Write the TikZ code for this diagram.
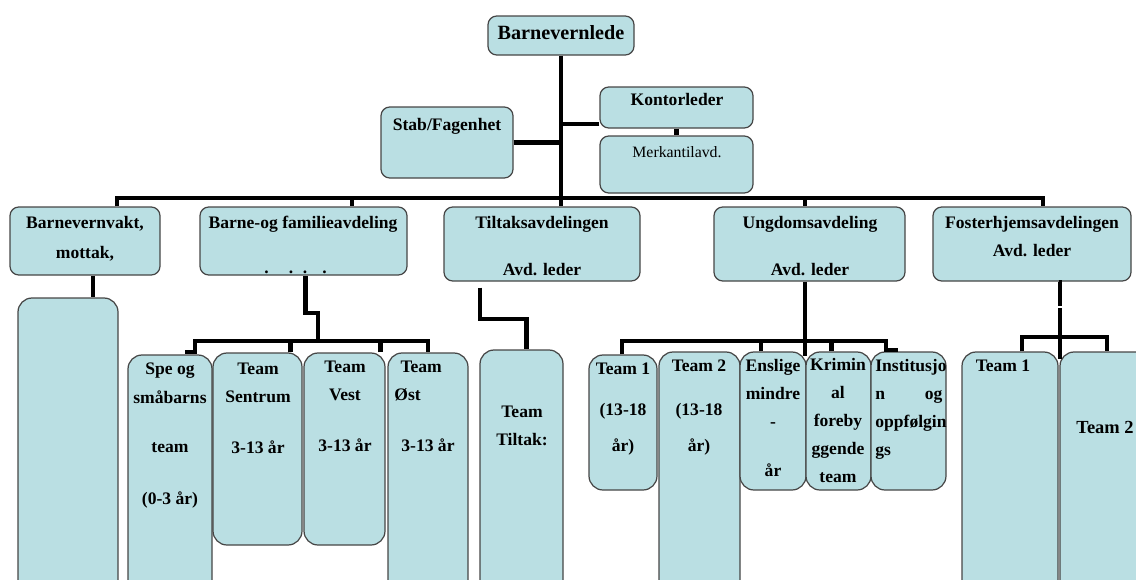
\documentclass[tikz,border=0pt]{standalone}
\usepackage{fontspec}
\setmainfont{Liberation Serif}
\usetikzlibrary{fit,calc}

\definecolor{boxfill}{RGB}{186,223,227}
\definecolor{boxline}{RGB}{70,70,70}

\begin{document}
\begin{tikzpicture}
[x=0.02cm,y=-0.02cm,
 box/.style={draw=boxline,line width=0.7pt,fill=boxfill,rounded corners=5pt,inner sep=0pt},
 tall/.style={box,rounded corners=8pt},
 txt/.style={anchor=north,inner sep=0pt,align=center,font=\bfseries\fontsize{10}{16}\selectfont},
 conn/.style={line width=2.3pt}]

\clip (0,0) rectangle (1136,579);

\node (lede) [box,fit={(488,16) (634,55)}] {};
\node (stab) [box,fit={(381,107) (513,178)}] {};
\node (kontor) [box,fit={(600,87) (753,128)}] {};
\node (merk) [box,fit={(600,136) (753,193)}] {};

\node (vakt) [box,fit={(10,207) (160,275)}] {};
\node (barne) [box,fit={(200,207) (407,275)}] {};
\node (tiltak) [box,fit={(444,207) (640,281)}] {};
\node (ungdom) [box,fit={(714,207) (905,281)}] {};
\node (foster) [box,fit={(933,207) (1131,281)}] {};

\node (vaktteam) [tall,fit={(18,298) (118,595)}] {};
\node (spe) [tall,fit={(128,355) (212,595)}] {};
\node (sentrum) [tall,fit={(213,353) (302,545)}] {};
\node (vest) [tall,fit={(304,353) (385,545)}] {};
\node (ost) [tall,fit={(388,353) (468,595)}] {};
\node (tteam) [tall,fit={(480,350) (563,595)}] {};
\node (u1) [tall,fit={(589,355) (657,490)}] {};
\node (u2) [tall,fit={(659,352) (740,595)}] {};
\node (enslige) [tall,fit={(740,352) (806,490)}] {};
\node (krim) [tall,fit={(806,352) (871,490)}] {};
\node (inst) [tall,fit={(871,352) (946,490)}] {};
\node (f1) [tall,fit={(962,352) (1058,595)}] {};
\node (f2) [tall,fit={(1060,352) (1160,595)}] {};

\node (lede-t) at (561,25) [txt,font=\bfseries\fontsize{11.5}{14}\selectfont] {Barnevernlede};
\node (stab-t) at (447,118) [txt] {Stab/Fagenhet};
\node (kontor-t) at (677,93) [txt] {Kontorleder};
\node (merk-t) at (677,146) [txt,font=\fontsize{9}{11}\selectfont] {Merkantilavd.};

\node (vakt-t) at (85,216) [txt] {Barnevernvakt,\\[1pt]mottak,};
\node (barne-t) at (303,216) [txt] {Barne-og familieavdeling\\[9.5pt].\hspace{11.5pt}.\hspace{5.5pt}.\hspace{8.5pt}.\hspace*{8.5pt}};
\node (tiltak-t) at (542,216) [txt] {Tiltaksavdelingen\\[11pt]Avd. leder};
\node (ungdom-t) at (810,216) [txt] {Ungdomsavdeling\\[11pt]Avd. leder};
\node (foster-t) at (1032,216) [txt] {Fosterhjemsavdelingen\\Avd. leder};

\node (spe-t) at (170,363) [txt] {Spe og\\småbarns\\[12pt]team\\[13.5pt](0-3 år)};
\node (sentrum-t) at (258,363) [txt] {Team\\Sentrum\\[12.5pt]3-13 år};
\node (vest-t) at (345,361) [txt] {Team\\Vest\\[12.5pt]3-13 år};
\node (ost-t) at (394,361) [txt,anchor=north west,align=left] {\hspace*{3.5pt}Team\\Øst\\[12.5pt]\hspace*{4pt}3-13 år};
\node (tteam-t) at (522,406) [txt] {Team\\Tiltak:};
\node (u1-t) at (623,363) [txt] {Team 1\\[7pt](13-18\\[4.5pt]år)};
\node (u2-t) at (699,360) [txt] {Team 2\\[9pt](13-18\\[4pt]år)};
\node (enslige-t) at (773,359) [txt] {Enslige\\mindre\\-\\[12pt]år};
\node (krim-t) at (838,358) [txt] {Krimin\\al\\foreby\\ggende\\team};
\node (inst-t) at (875,359) [txt,anchor=north west,align=left] {Institusjo\\\makebox[1.34cm][s]{n og}\\oppfølgin\\gs};
\node (f1-t) at (1003,360) [txt] {Team 1};
\node (f2-t) at (1105,421) [txt,font=\bfseries\fontsize{10.5}{14}\selectfont] {Team 2};

\coordinate (d1) at (117,198);
\coordinate (d2) at (352,198);
\coordinate (d3) at (561,198);
\coordinate (d4) at (805,198);
\coordinate (d5) at (1043,198);

\draw[conn] (lede.south) -- (d3);
\draw[conn] (stab.east) -- (stab.east -| lede.south);
\draw[conn] ($(kontor.south west)+(0,-5)$) -- ($(kontor.south west -| lede.south)+(0,-5)$);
\draw[conn] (kontor.south) -- (merk.north);
\draw[conn] (vakt.north -| d1) -- (d1) -- (d5) -- (foster.north -| d5);
\draw[conn] (d2) -- (barne.north -| d2);
\draw[conn] (d3) -- (tiltak.north -| d3);
\draw[conn] (d4) -- (ungdom.north -| d4);

\draw[conn] ($(vakt.south)+(8,0)$) -- ($(vaktteam.north)+(25,0)$);

\coordinate (b2) at (318,341);
\coordinate (bl) at (195,341);
\coordinate (br) at (428,341);
\draw[conn] ($(barne.south)+(2,0)$) -- ++(0,37) -| (b2);
\draw[conn] ($(spe.north)+(15,-2)$) -| (bl) -- (br) -- (br |- ost.north);
\draw[conn] ($(sentrum.north)+(33,0)$) -- ++(0,-12);
\draw[conn] ($(vest.north)+(36,0)$) -- ++(0,-12);

\draw[conn] ($(tiltak.south west)+(37,6)$) -- ++(0,31) -| ($(tteam.north)+(5,0)$);

\coordinate (ul) at (622,341);
\coordinate (ur) at (886,341);
\draw[conn] (ungdom.south -| d4) -- ($(d4 |- enslige.north)+(0,5)$);
\draw[conn] (u1.north -| ul) -- (ul) -- (ur) -- ++(0,9) -- ++(12,0);
\draw[conn] ($(enslige.north)+(-12,0)$) -- ++(0,-11);
\draw[conn] ($(krim.north)+(-7,0)$) -- ++(0,-11);

\coordinate (fb) at (1022,337);
\coordinate (fc) at (1107,337);
\draw[conn] (foster.south -| f1.north east) -- ++(1,0) -- ++(0,24);
\draw[conn] ($(f1.north east)+(1,-43)$) -- ($(f1.north east)+(1,8)$);
\draw[conn] (f1.north -| fb) -- (fb) -- (fc) -- (fc |- f2.north);
\end{tikzpicture}
\end{document}
